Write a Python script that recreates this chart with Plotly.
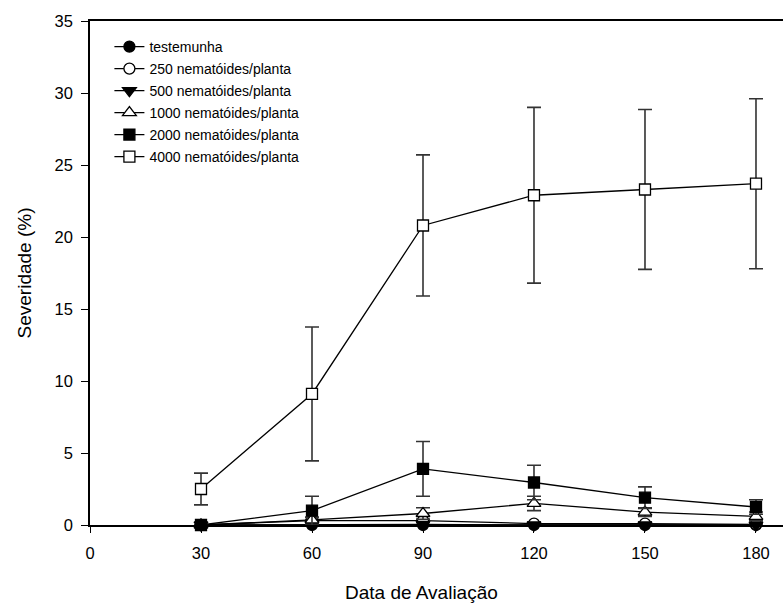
import plotly.graph_objects as go

days = [30, 60, 90, 120, 150, 180]

names = ["testemunha", "250 nematóides/planta", "500 nematóides/planta",
         "1000 nematóides/planta", "2000 nematóides/planta", "4000 nematóides/planta"]

testemunha = [0, 0, 0, 0, 0, 0]
n250 = [0, 0.3, 0.3, 0.1, 0.1, 0.05]
n500 = [0, 0.05, 0.05, 0.0, 0.0, 0.0]
n1000 = [0, 0.35, 0.8, 1.5, 0.9, 0.6]
n2000 = [0, 1.0, 3.9, 2.95, 1.9, 1.25]
n4000 = [2.5, 9.1, 20.8, 22.9, 23.3, 23.7]

err_testemunha = [0, 0, 0, 0, 0, 0]
err_250 = [0, 0.1, 0.1, 0.1, 0.1, 0.05]
err_500 = [0, 0, 0, 0, 0, 0]
err_1000 = [0, 0.2, 0.4, 0.5, 0.3, 0.3]
err_2000 = [0, 1.0, 1.9, 1.2, 0.75, 0.5]
err_4000 = [1.1, 4.65, 4.9, 6.1, 5.55, 5.9]

series = [testemunha, n250, n500, n1000, n2000, n4000]
errors = [err_testemunha, err_250, err_500, err_1000, err_2000, err_4000]
symbols = ["circle", "circle-open", "triangle-down", "triangle-up-open", "square", "square-open"]
sizes = [11, 11, 12, 12, 11, 11]

fig = go.Figure()
legend_ids = ["legend", "legend2", "legend3", "legend4", "legend5", "legend6"]
for nm, ys, es, sym, sz, lg in zip(names, series, errors, symbols, sizes, legend_ids):
    open_ = sym.endswith("open")
    fig.add_trace(go.Scatter(
        x=days, y=ys, name=nm, mode="lines+markers", legend=lg,
        line=dict(color="black", width=1.3),
        marker=dict(symbol=sym.replace("-open", ""), size=sz,
                    color="white" if open_ else "black",
                    line=dict(color="black", width=1.3)),
        error_y=dict(type="data", array=es, visible=True, color="#333333",
                     thickness=1.6, width=7),
        cliponaxis=False,
    ))

plot_top, plot_h = 21, 504
row0, row_gap = 47, 22
legend_layout = {}
for i, lg in enumerate(legend_ids):
    ypix = row0 + i * row_gap
    legend_layout[lg] = dict(
        x=0.028, y=(plot_top + plot_h - ypix) / plot_h, xanchor="left", yanchor="middle",
        font=dict(size=14), bgcolor="rgba(0,0,0,0)", itemwidth=30,
        borderwidth=0,
    )

fig.update_layout(
    width=783, height=607,
    margin=dict(l=90, r=0, t=21, b=82),
    paper_bgcolor="white", plot_bgcolor="white",
    font=dict(family="Liberation Sans, Arial, sans-serif", color="black"),
    showlegend=True,
    annotations=[dict(text="Data de Avaliação", xref="paper", yref="paper",
                      x=0.479, y=-0.134, xanchor="center", yanchor="middle",
                      showarrow=False, font=dict(size=19))],
    **legend_layout,
)
fig.update_xaxes(
    range=[0, 187.3], tickmode="array", tickvals=[0, 30, 60, 90, 120, 150, 180],
    showgrid=False, zeroline=False, showline=True, linecolor="black", linewidth=1.5,
    mirror=True, ticks="outside", ticklen=6, tickcolor="black",
    tickfont=dict(size=16.5), ticklabelstandoff=6,
)
fig.update_yaxes(
    range=[0, 35], dtick=5, showgrid=False, zeroline=False, showline=True,
    linecolor="black", linewidth=1.5, ticks="outside", ticklen=7, tickcolor="black",
    tickfont=dict(size=16.5), ticklabelstandoff=5,
    title=dict(text="Severidade (%)", font=dict(size=19), standoff=18),
)

fig.write_html("out.html")
